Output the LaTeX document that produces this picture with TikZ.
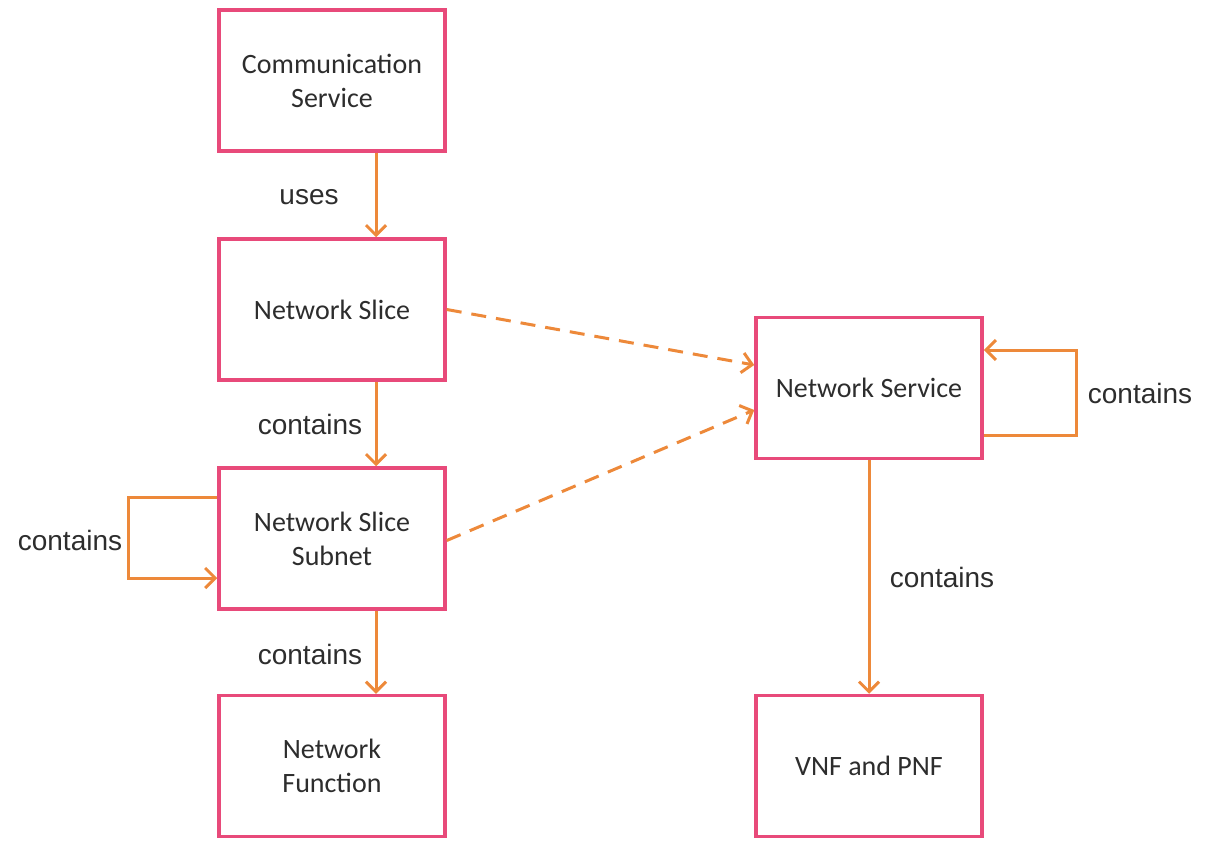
\documentclass[tikz,border=0pt]{standalone}
\usepackage{fontspec}
\setmainfont{Carlito}
\newfontfamily\labelfont{Liberation Sans}
\usepackage{tikz}
\usetikzlibrary{calc,arrows.meta}

\definecolor{boxpink}{RGB}{232,74,122}
\definecolor{linkorange}{RGB}{237,137,58}
\definecolor{textgray}{RGB}{45,45,45}

\begin{document}
\begin{tikzpicture}[x = 1pt, y = -1pt]
				\tikzset{entity/.style = {shape=rectangle, draw=boxpink, line width=3.5pt, fill=white,
						minimum width=226pt, minimum height=141pt, align=center, text=textgray,
						font=\fontsize{28}{34}\selectfont}}
				\tikzset{link/.style = {draw=linkorange, line width=3pt,
						-{Straight Barb[length=10pt,width=20pt,line width=3pt]}}}
				\tikzset{rel/.style = {text=textgray, font=\labelfont\fontsize{28}{34}\selectfont}}
				
				\useasboundingbox (0,0) rectangle (1214,840);
				
				%\node[] (title) at (600,0) {};
				
				\node[entity] (CS) at (332,80.5) {Communication\\Service};
				\node[entity] (NSl) at (332,309.5) {Network Slice};
				\node[entity] (NSS) at (332,538.5) {Network Slice\\Subnet};
				\node[entity] (NF) at (332,766) {Network\\Function};
				\node[entity] (NSv) at (869,388) {Network Service};
				\node[entity] (VNF) at (869,766) {VNF and PNF};
				
				\node[rel] (label_uses) at (309,197) {uses};
				\node[rel] (label_NSl) at (310,424) {contains};
				\node[rel] (label_NSS) at (310,654) {contains};
				\node[rel] (label_loop_NSS) at (70,540) {contains};
				\node[rel] (label_NSv) at (942,577) {contains};
				\node[rel] (label_loop_NSv) at (1140,393) {contains};
				
				\draw[link] ([xshift=44pt]CS.south) to ([xshift=44pt]NSl.north);
				\draw[link] ([xshift=44pt]NSl.south) to ([xshift=44pt]NSS.north);
				\draw[link] ([xshift=44pt]NSS.south) to ([xshift=44pt]NF.north);
				\draw[link] (NSv.south) to (VNF.north);
				
				\draw[link] ([yshift=41.5pt]NSS.west) -- ++(-89,0) |- ([yshift=-39.5pt]NSS.west);
				\draw[link] ([yshift=-47pt]NSv.east) -- ++(93,0) |- ([yshift=38pt]NSv.east);
				
				\draw[link, dashed, dash pattern=on 15pt off 10pt] (NSl.east) to ([yshift=23pt]NSv.west);
				\draw[link, dashed, dash pattern=on 15pt off 10pt] ([yshift=-2pt]NSS.east) to ([yshift=-22pt]NSv.west);
				
			\end{tikzpicture}
\end{document}
